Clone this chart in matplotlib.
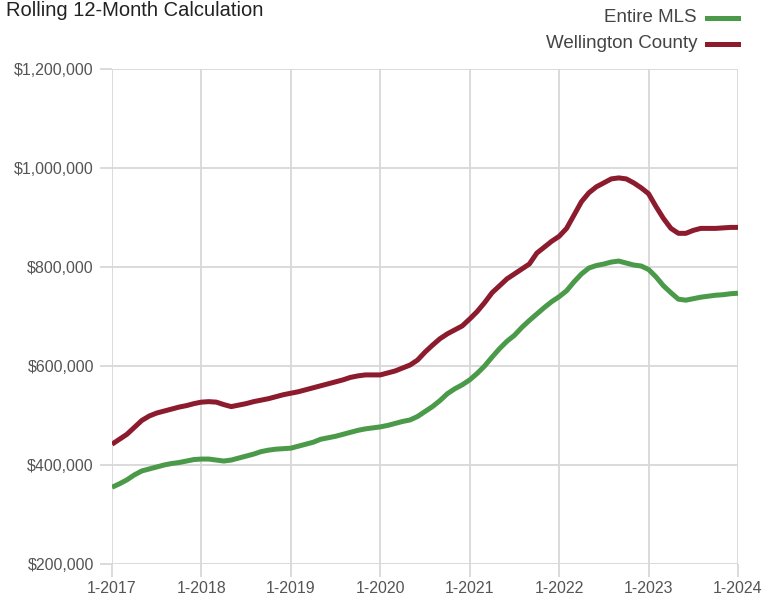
import matplotlib
matplotlib.use("Agg")
import matplotlib.pyplot as plt
import numpy as np
from matplotlib.ticker import FuncFormatter

title = "Rolling 12-Month Calculation"
series_names = ["Entire MLS", "Wellington County"]
x_tick_labels = ["1-2017", "1-2018", "1-2019", "1-2020", "1-2021", "1-2022", "1-2023", "1-2024"]
y_ticks = [200000, 400000, 600000, 800000, 1000000, 1200000]

# monthly values, Jan 2017 .. Jan 2024 (thousands of $)
entire_mls = [355, 362, 370, 380, 388, 392, 396, 400, 403, 405, 408, 411,
              412, 412, 410, 408, 410, 414, 418, 422, 427, 430, 432, 433,
              434, 438, 442, 446, 452, 455, 458, 462, 466, 470, 473, 475,
              477, 480, 484, 488, 491, 498, 508, 518, 530, 544, 554, 562,
              572, 585, 600, 618, 635, 650, 662, 678, 692, 705, 718, 730,
              740, 752, 770, 786, 798, 803, 806, 810, 812, 808, 804, 802,
              795, 780, 762, 748, 735, 733, 736, 739, 741, 743, 744, 746,
              747]
wellington = [442, 452, 462, 476, 490, 499, 505, 509, 513, 517, 520, 524,
              527, 528, 527, 522, 518, 521, 524, 528, 531, 534, 538, 542,
              545, 548, 552, 556, 560, 564, 568, 572, 577, 580, 582, 582,
              582, 586, 590, 596, 602, 612, 628, 642, 655, 665, 673, 681,
              695, 710, 728, 748, 762, 776, 786, 796, 806, 828, 840, 852,
              862, 878, 905, 932, 950, 962, 970, 978, 980, 978, 970, 960,
              948, 922, 898, 878, 868, 868, 874, 878, 878, 878, 879, 880,
              880]

colors = ["#4a9a4a", "#8c1b2e"]
grid_c = "#d8d8d8"
txt_c = "#555555"

fam = ["Liberation Sans Narrow", "Liberation Sans", "DejaVu Sans"]
plt.rcParams["font.family"] = fam

fig = plt.figure(figsize=(7.64, 5.99), dpi=100)
ax = fig.add_axes([112/764, 1-564/599, (738-112)/764, (564-69)/599])

months = np.arange(len(entire_mls))
ax.plot(months, np.array(entire_mls) * 1000, color=colors[0], lw=3.6,
        solid_capstyle="butt", zorder=3)
ax.plot(months, np.array(wellington) * 1000, color=colors[1], lw=3.6,
        solid_capstyle="butt", zorder=3)

ax.set_xlim(0, 84)
ax.set_ylim(200000, 1200000)
ax.set_xticks(np.arange(0, 85, 12))
ax.set_xticklabels(x_tick_labels)
ax.set_yticks(y_ticks)
ax.yaxis.set_major_formatter(FuncFormatter(lambda v, p: "${:,.0f}".format(v)))
ax.grid(True, color=grid_c, lw=1.3, zorder=0)
for s in ax.spines.values():
    s.set_visible(False)
ax.tick_params(axis="both", colors=grid_c, labelcolor=txt_c, labelsize=11.5,
               length=9, width=1.3)
ax.tick_params(axis="y", pad=4)
ax.tick_params(axis="x", pad=3)

fig.text(6/764, 1-10/599, title, fontsize=14.5, color="#222222",
         ha="left", va="center")

# legend
for i, (name, c) in enumerate(zip(series_names, colors)):
    yy = 1 - (18 + i*26)/599
    fig.text(697/764, yy, name, fontsize=13.5, color="#444444", ha="right", va="center")
    fig.add_artist(plt.Line2D([707/764, 738/764], [yy, yy], color=c, lw=3.6,
                              transform=fig.transFigure))

fig.savefig("out.png", dpi=100)
